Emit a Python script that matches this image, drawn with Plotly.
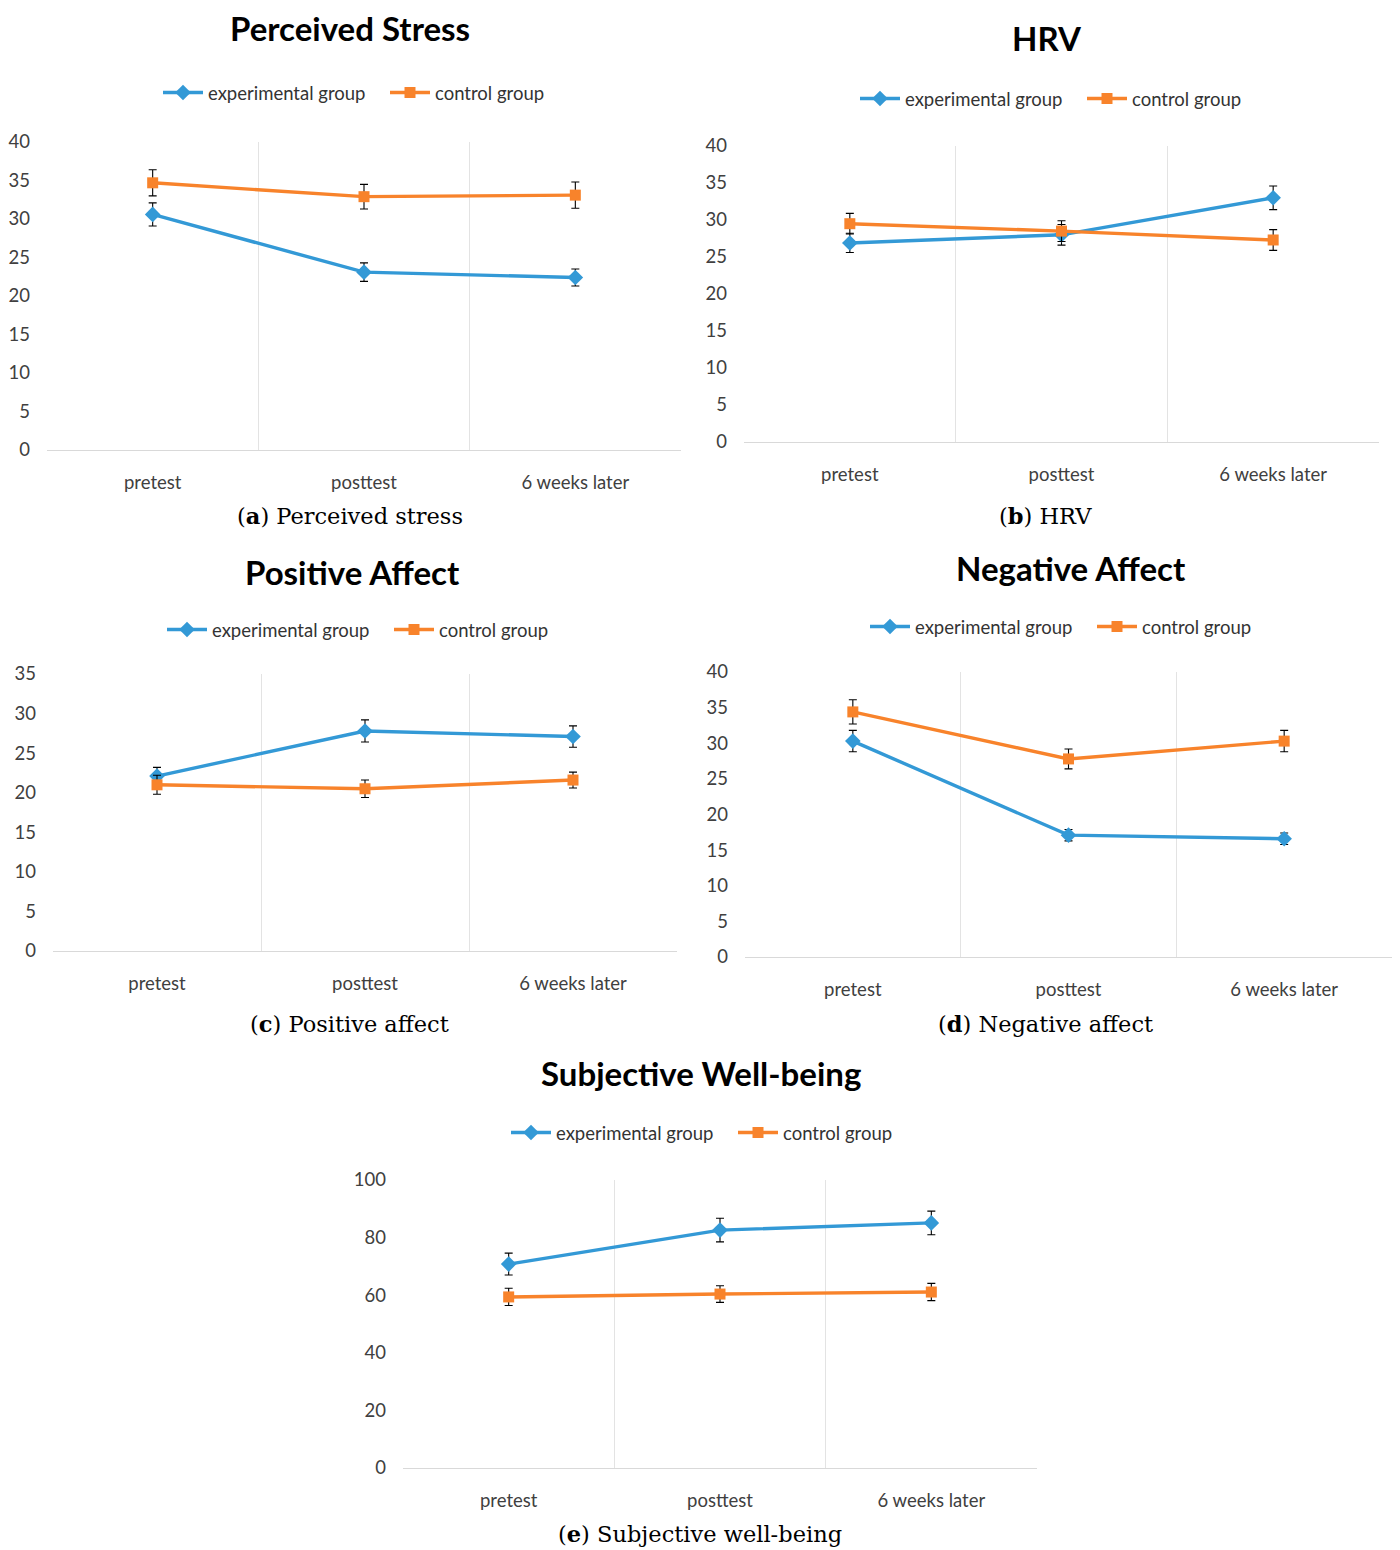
import plotly.graph_objects as go

W, H = 1392, 1542   # figure size; the page adds an 8px body margin
OFF = 8

timepoints = ["pretest", "posttest", "6 weeks later"]
series_names = ["experimental group", "control group"]

stress_exp = [30.6, 23.1, 22.4]
stress_exp_err = [1.5, 1.2, 1.1]
stress_ctrl = [34.7, 32.9, 33.1]
stress_ctrl_err = [1.7, 1.6, 1.7]

hrv_exp = [26.9, 28.0, 33.0]
hrv_exp_err = [1.3, 1.4, 1.6]
hrv_ctrl = [29.5, 28.5, 27.3]
hrv_ctrl_err = [1.4, 1.4, 1.4]

pa_exp = [22.1, 27.8, 27.1]
pa_exp_err = [1.1, 1.4, 1.35]
pa_ctrl = [21.0, 20.5, 21.6]
pa_ctrl_err = [1.2, 1.1, 1.0]

na_exp = [30.3, 17.1, 16.6]
na_exp_err = [1.5, 0.8, 0.8]
na_ctrl = [34.4, 27.8, 30.3]
na_ctrl_err = [1.7, 1.4, 1.5]

swb_exp = [70.8, 82.6, 85.1]
swb_exp_err = [3.8, 4.1, 4.1]
swb_ctrl = [59.4, 60.4, 61.1]
swb_ctrl_err = [3.0, 2.9, 3.0]

titles = ["Perceived Stress", "HRV", "Positive Affect", "Negative Affect", "Subjective Well-being"]
captions = [("a", "Perceived stress"), ("b", "HRV"), ("c", "Positive affect"),
            ("d", "Negative affect"), ("e", "Subjective well-being")]
y_max = [40, 40, 35, 40, 100]
y_dtick = [5, 5, 5, 5, 20]

BLUE = "#3399D6"
ORANGE = "#F8832B"
SANS = "Lato, 'Open Sans', sans-serif"
SERIF = "'DejaVu Serif', 'Liberation Serif', serif"

# pixel layout: (left, right, top(ymax), bottom(y0)), title (x, y), legend (x, y), caption (x, y)
panels = [
    dict(box=(47, 681, 142, 450), title=(350, 28), legend=(158, 93), caption=(350, 516)),
    dict(box=(744, 1379, 146, 442), title=(1047, 38), legend=(855, 99), caption=(1045, 516)),
    dict(box=(53, 677, 674, 951), title=(352, 572), legend=(162, 630), caption=(349, 1024)),
    dict(box=(745, 1392, 672, 957), title=(1071, 568), legend=(865, 627), caption=(1045, 1024)),
    dict(box=(403, 1037, 1180, 1468), title=(701, 1073), legend=(506, 1133), caption=(700, 1534)),
]

data = [
    (stress_exp, stress_exp_err, stress_ctrl, stress_ctrl_err),
    (hrv_exp, hrv_exp_err, hrv_ctrl, hrv_ctrl_err),
    (pa_exp, pa_exp_err, pa_ctrl, pa_ctrl_err),
    (na_exp, na_exp_err, na_ctrl, na_ctrl_err),
    (swb_exp, swb_exp_err, swb_ctrl, swb_ctrl_err),
]

fig = go.Figure()
xs = list(range(len(timepoints)))

def px(x):
    return (x - OFF) / W

def py(y):
    return 1 - (y - OFF) / H

annotations = []
layout_upd = {}
for i, (p, d) in enumerate(zip(panels, data)):
    n = "" if i == 0 else str(i + 1)
    leg = "legend" if i == 0 else f"legend{i+1}"
    exp, exp_err, ctrl, ctrl_err = d
    fig.add_trace(go.Scatter(
        x=xs, y=exp, name=series_names[0], mode="lines+markers",
        line=dict(color=BLUE, width=3.4),
        marker=dict(symbol="diamond", size=12, color=BLUE),
        error_y=dict(type="data", array=exp_err, visible=True, color="black", thickness=1.1, width=4),
        xaxis="x" + n, yaxis="y" + n, legend=leg, cliponaxis=False))
    fig.add_trace(go.Scatter(
        x=xs, y=ctrl, name=series_names[1], mode="lines+markers",
        line=dict(color=ORANGE, width=3.4),
        marker=dict(symbol="square", size=11, color=ORANGE),
        error_y=dict(type="data", array=ctrl_err, visible=True, color="black", thickness=1.1, width=4),
        xaxis="x" + n, yaxis="y" + n, legend=leg, cliponaxis=False))
    l, r, t, b = p["box"]
    layout_upd["xaxis" + n] = dict(
        domain=[px(l), px(r)], anchor="y" + n, range=[-0.5, len(timepoints) - 0.5],
        tickmode="array", tickvals=xs, ticktext=timepoints, showgrid=False,
        zeroline=False, showline=True, linecolor="#D9D9D9", linewidth=1.2,
        ticks="", ticklabelstandoff=16, automargin=False,
        tickfont=dict(family=SANS, size=18.5, color="#404040"),
        minor=dict(tickmode="array", tickvals=[-0.5 + k for k in range(len(timepoints) + 1)],
                   showgrid=True, gridcolor="#E3E3E3", gridwidth=1.2, ticks=""),
        fixedrange=True)
    layout_upd["yaxis" + n] = dict(
        domain=[py(b), py(t)], anchor="x" + n, range=[0, y_max[i]], dtick=y_dtick[i],
        showgrid=False, zeroline=False, showline=False, ticks="", ticklabelstandoff=16,
        automargin=False,
        tickfont=dict(family=SANS, size=18.5, color="#404040"), fixedrange=True)
    lx, ly = p["legend"]
    layout_upd[leg] = dict(
        x=px(lx), y=py(ly), xanchor="left", yanchor="middle", orientation="h",
        font=dict(family=SANS, size=18.5, color="#333333"), bgcolor="rgba(0,0,0,0)",
        itemwidth=40, tracegroupgap=0, entrywidth=172)
    tx, ty = p["title"]
    annotations.append(dict(
        text=f"<b>{titles[i]}</b>", x=px(tx), y=py(ty), xref="paper", yref="paper",
        xanchor="center", yanchor="middle", showarrow=False,
        font=dict(family=SANS, size=33, color="#000000")))
    cx, cy = p["caption"]
    letter, cap = captions[i]
    annotations.append(dict(
        text=f"(<b>{letter}</b>) {cap}", x=px(cx), y=py(cy), xref="paper", yref="paper",
        xanchor="center", yanchor="middle", showarrow=False,
        font=dict(family=SERIF, size=22.5, color="#000000")))

fig.update_layout(
    width=W, height=H, margin=dict(l=0, r=0, t=0, b=0, autoexpand=False),
    paper_bgcolor="white", plot_bgcolor="white",
    annotations=annotations, **layout_upd)

fig.write_html("out.html")
